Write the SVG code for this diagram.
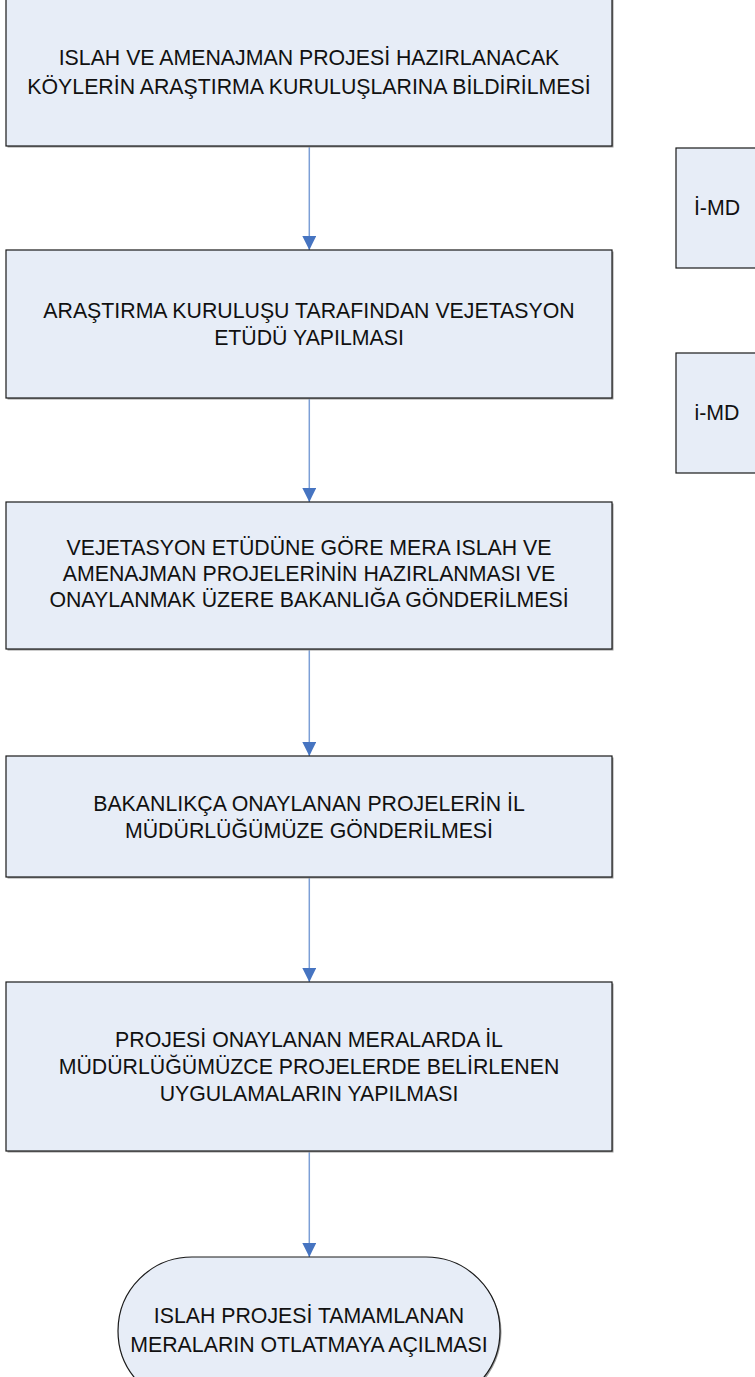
<svg xmlns="http://www.w3.org/2000/svg" width="755" height="1377" viewBox="0 0 755 1377">
<style>
.box{fill:#E7EDF7;stroke:#1a1a1a;stroke-width:1.2}
.sh{fill:#9a9a9a}
.t{font-family:"Liberation Sans",Arial,sans-serif;font-size:21.3px;fill:#111;text-anchor:middle}
.ln{stroke:#7C9FD6;stroke-width:1.5;fill:none}
</style>
<defs>
<marker id="ah" markerWidth="14" markerHeight="14" viewBox="0 0 14 14" refX="14" refY="7" orient="auto" markerUnits="userSpaceOnUse">
<path d="M0,0 L14,7 L0,14 Z" fill="#4674C1"/>
</marker>
</defs>
<rect width="755" height="1377" fill="#fff"/>
<g id="connectors">
<line class="ln" x1="309.3" y1="146" x2="309.3" y2="250" marker-end="url(#ah)"/>
<line class="ln" x1="309.3" y1="398" x2="309.3" y2="502" marker-end="url(#ah)"/>
<line class="ln" x1="309.3" y1="649" x2="309.3" y2="756" marker-end="url(#ah)"/>
<line class="ln" x1="309.3" y1="877" x2="309.3" y2="982" marker-end="url(#ah)"/>
<line class="ln" x1="309.3" y1="1151" x2="309.3" y2="1257" marker-end="url(#ah)"/>
</g>
<g id="n1">
<rect class="sh" x="7.5" y="-0.5" width="606" height="148"/>
<rect class="box" x="6" y="-2" width="606" height="148"/>
<text class="t" x="309" y="65">ISLAH VE AMENAJMAN PROJESİ HAZIRLANACAK</text>
<text class="t" x="309" y="94">KÖYLERİN ARAŞTIRMA KURULUŞLARINA BİLDİRİLMESİ</text>
</g>
<g id="n2">
<rect class="sh" x="7.5" y="251.5" width="606" height="148"/>
<rect class="box" x="6" y="250" width="606" height="148"/>
<text class="t" x="309" y="318">ARAŞTIRMA KURULUŞU TARAFINDAN VEJETASYON</text>
<text class="t" x="309" y="345">ETÜDÜ YAPILMASI</text>
</g>
<g id="n3">
<rect class="sh" x="7.5" y="503.5" width="606" height="147"/>
<rect class="box" x="6" y="502" width="606" height="147"/>
<text class="t" x="309" y="555">VEJETASYON ETÜDÜNE GÖRE MERA ISLAH VE</text>
<text class="t" x="309" y="581">AMENAJMAN PROJELERİNİN HAZIRLANMASI VE</text>
<text class="t" x="309" y="607">ONAYLANMAK ÜZERE BAKANLIĞA GÖNDERİLMESİ</text>
</g>
<g id="n4">
<rect class="sh" x="7.5" y="757.5" width="606" height="121"/>
<rect class="box" x="6" y="756" width="606" height="121"/>
<text class="t" x="309" y="810.5">BAKANLIKÇA ONAYLANAN PROJELERİN İL</text>
<text class="t" x="309" y="837.5">MÜDÜRLÜĞÜMÜZE GÖNDERİLMESİ</text>
</g>
<g id="n5">
<rect class="sh" x="7.5" y="983.5" width="606" height="169"/>
<rect class="box" x="6" y="982" width="606" height="169"/>
<text class="t" x="309" y="1047">PROJESİ ONAYLANAN MERALARDA İL</text>
<text class="t" x="309" y="1074">MÜDÜRLÜĞÜMÜZCE PROJELERDE BELİRLENEN</text>
<text class="t" x="309" y="1101">UYGULAMALARIN YAPILMASI</text>
</g>
<g id="n6">
<rect class="sh" x="119.5" y="1258.5" width="382" height="148" rx="74" ry="74"/>
<rect class="box" x="118" y="1257" width="382" height="148" rx="74" ry="74"/>
<text class="t" x="309" y="1323">ISLAH PROJESİ TAMAMLANAN</text>
<text class="t" x="309" y="1352">MERALARIN OTLATMAYA AÇILMASI</text>
</g>
<g id="s1">
<rect class="box" x="676" y="148" width="90" height="120"/>
<text class="t" x="717" y="215">İ-MD</text>
</g>
<g id="s2">
<rect class="box" x="676" y="353" width="90" height="120"/>
<text class="t" x="717" y="420">i-MD</text>
</g>
</svg>
